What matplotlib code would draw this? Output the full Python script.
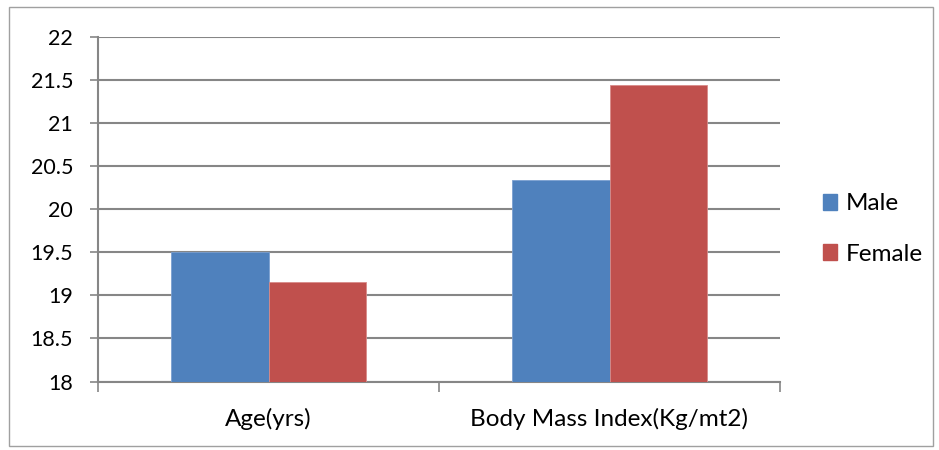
import matplotlib
matplotlib.use("Agg")
import matplotlib.pyplot as plt
from matplotlib.patches import Rectangle, Patch
import numpy as np

categories = ["Age(yrs)", "Body Mass Index(Kg/mt2)"]
series_names = ["Male", "Female"]
male = [19.5, 20.34]
female = [19.15, 21.44]
yticks = [18, 18.5, 19, 19.5, 20, 20.5, 21, 21.5, 22]
ytick_labels = ["18", "18.5", "19", "19.5", "20", "20.5", "21", "21.5", "22"]

colors = ["#4F81BD", "#C0504D"]
grid_c = "#868686"
font = ["Lato", "DejaVu Sans"]
plt.rcParams['font.family'] = font

fig = plt.figure(figsize=(9.39, 4.5), dpi=100)
fig.patches.append(Rectangle((9/939, 1-446/450), (933-9)/939, (446-7)/450,
                             transform=fig.transFigure, fill=False,
                             edgecolor="#A0A0A0", linewidth=1.0))
ax = fig.add_axes([98/939, 1-381.5/450, (780-98)/939, (381.5-37)/450])

x = np.arange(len(categories))
w = 0.285
ax.bar(x - w/2, np.array(male) - 18, w, bottom=18, color=colors[0],
       edgecolor="#7a9fd0", linewidth=0.6, zorder=3, label=series_names[0])
ax.bar(x + w/2, np.array(female) - 18, w, bottom=18, color=colors[1],
       edgecolor="#d88b89", linewidth=0.6, zorder=3, label=series_names[1])

ax.set_xlim(-0.5, len(categories) - 0.5)
ax.set_ylim(18, 22)
ax.set_yticks(yticks)
ax.set_yticklabels(ytick_labels, fontsize=15.5)
ax.yaxis.grid(True, color=grid_c, linewidth=1.5, zorder=0)
ax.set_axisbelow(True)

ax.set_xticks(x)
ax.set_xticklabels(categories, fontsize=17.5)
ax.tick_params(axis='x', length=0, pad=19)
ax.set_xticks([-0.5, 0.5, 1.5], minor=True)
ax.tick_params(axis='x', which='minor', length=7, width=1.2, color=grid_c)
ax.tick_params(axis='y', length=6, width=1.2, color=grid_c, pad=12)

for s in ["top", "right"]:
    ax.spines[s].set_visible(False)
for s in ["left", "bottom"]:
    ax.spines[s].set_color(grid_c)
    ax.spines[s].set_linewidth(1.5)

handles = [Patch(color=colors[0]), Patch(color=colors[1])]
fig.legend(handles, series_names, loc="center left",
           bbox_to_anchor=(801/939, 1-229/450), frameon=False,
           fontsize=17.5, handlelength=0.6, handleheight=0.6,
           handletextpad=0.35, labelspacing=1.2)

fig.savefig("out.png", dpi=100)
